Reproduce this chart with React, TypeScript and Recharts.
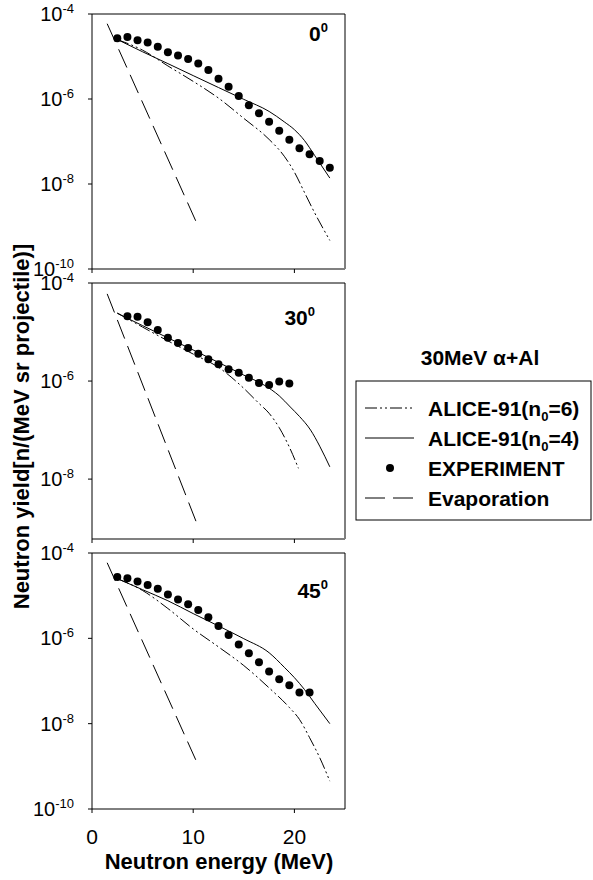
import { ComposedChart, Line, Scatter, XAxis, YAxis, ReferenceLine } from 'recharts'

const FONT = 'Liberation Sans, Arial, sans-serif'

// experiment energies (MeV) and yields
const expEnergy0 = [2.5, 3.5, 4.5, 5.5, 6.5, 7.5, 8.5, 9.5, 10.5, 11.5, 12.5, 13.5, 14.5, 15.5, 16.5, 17.5, 18.5, 19.5, 20.5, 21.5, 22.5, 23.5]
const expYield0 = [2.69e-5, 2.88e-5, 2.4e-5, 2.14e-5, 1.7e-5, 1.26e-5, 1.05e-5, 8.7e-6, 6.8e-6, 4.8e-6, 3.0e-6, 1.95e-6, 1.17e-6, 7.1e-7, 4.6e-7, 2.9e-7, 1.8e-7, 1.1e-7, 6.9e-8, 5.0e-8, 3.5e-8, 2.4e-8]
const expEnergy30 = [3.5, 4.5, 5.5, 6.5, 7.5, 8.5, 9.5, 10.5, 11.5, 12.5, 13.5, 14.5, 15.5, 16.5, 17.5, 18.5, 19.5]
const expYield30 = [2.09e-5, 2.04e-5, 1.58e-5, 1.1e-5, 7.6e-6, 6.0e-6, 4.7e-6, 3.6e-6, 2.8e-6, 2.19e-6, 1.74e-6, 1.48e-6, 1.17e-6, 9.1e-7, 8.3e-7, 9.8e-7, 8.9e-7]
const expEnergy45 = [2.5, 3.5, 4.5, 5.5, 6.5, 7.5, 8.5, 9.5, 10.5, 11.5, 12.5, 13.5, 14.5, 15.5, 16.5, 17.5, 18.5, 19.5, 20.5, 21.5]
const expYield45 = [2.75e-5, 2.57e-5, 2.14e-5, 1.78e-5, 1.45e-5, 1.07e-5, 8.1e-6, 6.3e-6, 4.6e-6, 3.1e-6, 1.95e-6, 1.2e-6, 7.2e-7, 4.5e-7, 2.75e-7, 1.66e-7, 1.1e-7, 7.9e-8, 5.4e-8, 5.4e-8]

// ALICE-91 (n0=4)
const n4Energy0 = [2.5, 5, 7.5, 10, 12.5, 15, 17.5, 19, 20, 21, 22, 23.5]
const n4Yield0 = [2.51e-5, 1.29e-5, 6.8e-6, 3.55e-6, 1.86e-6, 9.8e-7, 5.1e-7, 2.9e-7, 1.9e-7, 1.05e-7, 4.7e-8, 1.38e-8]
const n4Energy30 = [2.5, 5, 7.5, 10, 12.5, 15, 17, 18.5, 19.6, 20.5, 21.6, 22.5, 23.5]
const n4Yield30 = [2.4e-5, 1.35e-5, 7.6e-6, 4.3e-6, 2.4e-6, 1.32e-6, 8.3e-7, 5.0e-7, 2.95e-7, 1.9e-7, 1.0e-7, 4.7e-8, 1.78e-8]
const n4Energy45 = [2.5, 5, 7.5, 10, 12.5, 15, 17.5, 19, 20, 21, 22, 23.5]
const n4Yield45 = [2.51e-5, 1.38e-5, 7.6e-6, 3.8e-6, 1.95e-6, 9.8e-7, 4.6e-7, 2.1e-7, 1.2e-7, 6.3e-8, 3.0e-8, 1.0e-8]

// ALICE-91 (n0=6)
const n6Energy0 = [2.5, 5, 7.5, 10, 12.5, 15, 17.5, 19, 20, 21, 22, 23.5]
const n6Yield0 = [2.51e-5, 1.41e-5, 6.0e-6, 2.6e-6, 1.05e-6, 3.5e-7, 1.12e-7, 4.5e-8, 1.9e-8, 6.3e-9, 2.1e-9, 4.7e-10]
const n6Energy30 = [2.5, 5, 7.5, 10, 12.5, 15, 16.5, 17.5, 18.5, 19.5, 20.4]
const n6Yield30 = [2.45e-5, 1.26e-5, 6.6e-6, 3.55e-6, 1.9e-6, 7.1e-7, 3.5e-7, 2.2e-7, 1.12e-7, 4.5e-8, 1.66e-8]
const n6Energy45 = [2.5, 5, 7.5, 10, 12.5, 15, 17.5, 19.5, 20.5, 21.5, 22.5, 23.5]
const n6Yield45 = [2.51e-5, 1.32e-5, 5.0e-6, 1.66e-6, 6.3e-7, 2.3e-7, 6.9e-8, 2.4e-8, 1.26e-8, 4.7e-9, 1.6e-9, 4.5e-10]

// evaporation
const evapEnergy = [1.5, 10.5]
const evapYield0 = [5.9e-5, 1.0e-9]
const evapYield30 = [6.0e-5, 1.05e-9]
const evapYield45 = [5.9e-5, 1.05e-9]

const panelAngles = ['0', '30', '45']
const xTicks = [0, 10, 20]
const yTicksFull = [1e-10, 1e-8, 1e-6, 1e-4]
const yTicksMid = [1e-8, 1e-6, 1e-4]

const legendNames = ['ALICE-91(n|0|=6)', 'ALICE-91(n|0|=4)', 'EXPERIMENT', 'Evaporation']
const legendTitle = '30MeV α+Al'

const N6_DASH = '12 3 2 3 2 3'
const EVAP_DASH = '20 8'

type Pt = { x: number; y: number }
const zip = (xs: number[], ys: number[]): Pt[] => xs.map((x, i) => ({ x, y: ys[i] }))

const YTick = ({ x, y, payload }: any) => {
    const exp = Math.round(Math.log10(payload.value))
    return (
        <text x={x - 12} y={y + 7} textAnchor="end" fontSize={20} fontFamily={FONT} fill="#000">
            10<tspan dy={-8} fontSize={13}>{exp}</tspan>
        </text>
    )
}

const XTick = ({ x, y, payload }: any) => (
    <text x={x} y={y + 29} textAnchor="middle" fontSize={21} fontFamily={FONT} fill="#000">
        {payload.value}
    </text>
)

const NoTick = () => <g />

interface PanelProps {
    top: number
    marginTop: number
    plotHeight: number
    xAxisHeight: number
    yMin: number
    yTicks: number[]
    axisColor: string
    axisWidth: number
    labels: boolean
    exp: Pt[]
    n4: Pt[]
    n6: Pt[]
    evap: Pt[]
}

const Panel = (p: PanelProps) => {
    const height = p.marginTop + p.plotHeight + p.xAxisHeight
    return (
        <div style={{ position: 'absolute', left: 0, top: p.top, width: 360, height }}>
            <ComposedChart width={360} height={height} margin={{ top: p.marginTop, right: 15, left: 32, bottom: 0 }}>
                <XAxis
                    type="number"
                    dataKey="x"
                    domain={[0, 25]}
                    ticks={xTicks}
                    allowDataOverflow
                    height={p.xAxisHeight}
                    axisLine={{ stroke: p.axisColor, strokeWidth: p.axisWidth }}
                    tickLine={{ stroke: '#000' }}
                    tickSize={4}
                    tick={p.labels ? <XTick /> : <NoTick />}
                />
                <YAxis
                    type="number"
                    dataKey="y"
                    scale="log"
                    domain={[p.yMin, 1e-4]}
                    ticks={p.yTicks}
                    interval={0}
                    allowDataOverflow
                    width={60}
                    axisLine={{ stroke: '#000' }}
                    tickLine={{ stroke: '#000' }}
                    tickSize={4}
                    tick={<YTick />}
                />
                <ReferenceLine y={1e-4} stroke="#000" />
                <ReferenceLine x={25} stroke="#000" />
                <Line data={p.evap} dataKey="y" type="linear" stroke="#000" strokeWidth={1} strokeDasharray={EVAP_DASH} dot={false} isAnimationActive={false} />
                <Line data={p.n6} dataKey="y" type="monotone" stroke="#000" strokeWidth={1} strokeDasharray={N6_DASH} dot={false} isAnimationActive={false} />
                <Line data={p.n4} dataKey="y" type="monotone" stroke="#000" strokeWidth={1} dot={false} isAnimationActive={false} />
                <Scatter
                    data={p.exp}
                    fill="#000"
                    isAnimationActive={false}
                    shape={(s: any) => <circle cx={s.cx} cy={s.cy} r={4} fill="#000" />}
                />
            </ComposedChart>
        </div>
    )
}

const Sup = ({ base, sup }: { base: string; sup: string }) => (
    <>
        {base}
        <tspan dy={-9} fontSize={13}>{sup}</tspan>
    </>
)

const LegendText = ({ name }: { name: string }) => {
    const parts = name.split('|')
    if (parts.length === 1) return <>{name}</>
    return (
        <>
            {parts[0]}
            <tspan dy={5} fontSize={13}>{parts[1]}</tspan>
            <tspan dy={-5}>{parts[2]}</tspan>
        </>
    )
}

const App = () => {
    const legendY = [408, 438, 468, 498]
    return (
        <div style={{ position: 'absolute', left: 0, top: 0, width: 593, height: 880, background: '#fff', fontFamily: FONT }}>
            <Panel top={0} marginTop={14} plotHeight={255} xAxisHeight={10} yMin={1e-10} yTicks={yTicksFull}
                axisColor="#808080" axisWidth={2} labels={false}
                exp={zip(expEnergy0, expYield0)} n4={zip(n4Energy0, n4Yield0)} n6={zip(n6Energy0, n6Yield0)} evap={zip(evapEnergy, evapYield0)} />
            <Panel top={270} marginTop={13} plotHeight={256} xAxisHeight={10} yMin={6e-10} yTicks={yTicksMid}
                axisColor="#808080" axisWidth={2} labels={false}
                exp={zip(expEnergy30, expYield30)} n4={zip(n4Energy30, n4Yield30)} n6={zip(n6Energy30, n6Yield30)} evap={zip(evapEnergy, evapYield30)} />
            <Panel top={540} marginTop={13} plotHeight={256} xAxisHeight={40} yMin={1e-10} yTicks={yTicksFull}
                axisColor="#000" axisWidth={1} labels={true}
                exp={zip(expEnergy45, expYield45)} n4={zip(n4Energy45, n4Yield45)} n6={zip(n6Energy45, n6Yield45)} evap={zip(evapEnergy, evapYield45)} />

            <svg width={593} height={880} style={{ position: 'absolute', left: 0, top: 0, pointerEvents: 'none' }} fontFamily={FONT}>
                <text transform="translate(28.5,426.5) rotate(-90)" textAnchor="middle" fontSize={22} fontWeight="bold">
                    Neutron yield[n/(MeV sr projectile)]
                </text>
                <text x={219} y={869} textAnchor="middle" fontSize={22} fontWeight="bold">Neutron energy (MeV)</text>

                <text x={328} y={41} textAnchor="end" fontSize={21} fontWeight="bold"><Sup base={panelAngles[0]} sup="0" /></text>
                <text x={315} y={325} textAnchor="end" fontSize={21} fontWeight="bold"><Sup base={panelAngles[1]} sup="0" /></text>
                <text x={328} y={598} textAnchor="end" fontSize={21} fontWeight="bold"><Sup base={panelAngles[2]} sup="0" /></text>

                <text x={480} y={365} textAnchor="middle" fontSize={21} fontWeight="bold">{legendTitle}</text>
                <rect x={356} y={381} width={235} height={139} fill="none" stroke="#000" />
                <line x1={365} x2={414} y1={legendY[0]} y2={legendY[0]} stroke="#000" strokeDasharray={N6_DASH} />
                <line x1={365} x2={414} y1={legendY[1]} y2={legendY[1]} stroke="#000" />
                <circle cx={390} cy={legendY[2]} r={4} fill="#000" />
                <line x1={365} x2={414} y1={legendY[3]} y2={legendY[3]} stroke="#000" strokeDasharray={EVAP_DASH} />
                {legendNames.map((name, i) => (
                    <text key={name} x={428} y={legendY[i] + 7.5} fontSize={21} fontWeight="bold">
                        <LegendText name={name} />
                    </text>
                ))}
            </svg>
        </div>
    )
}

export default App
